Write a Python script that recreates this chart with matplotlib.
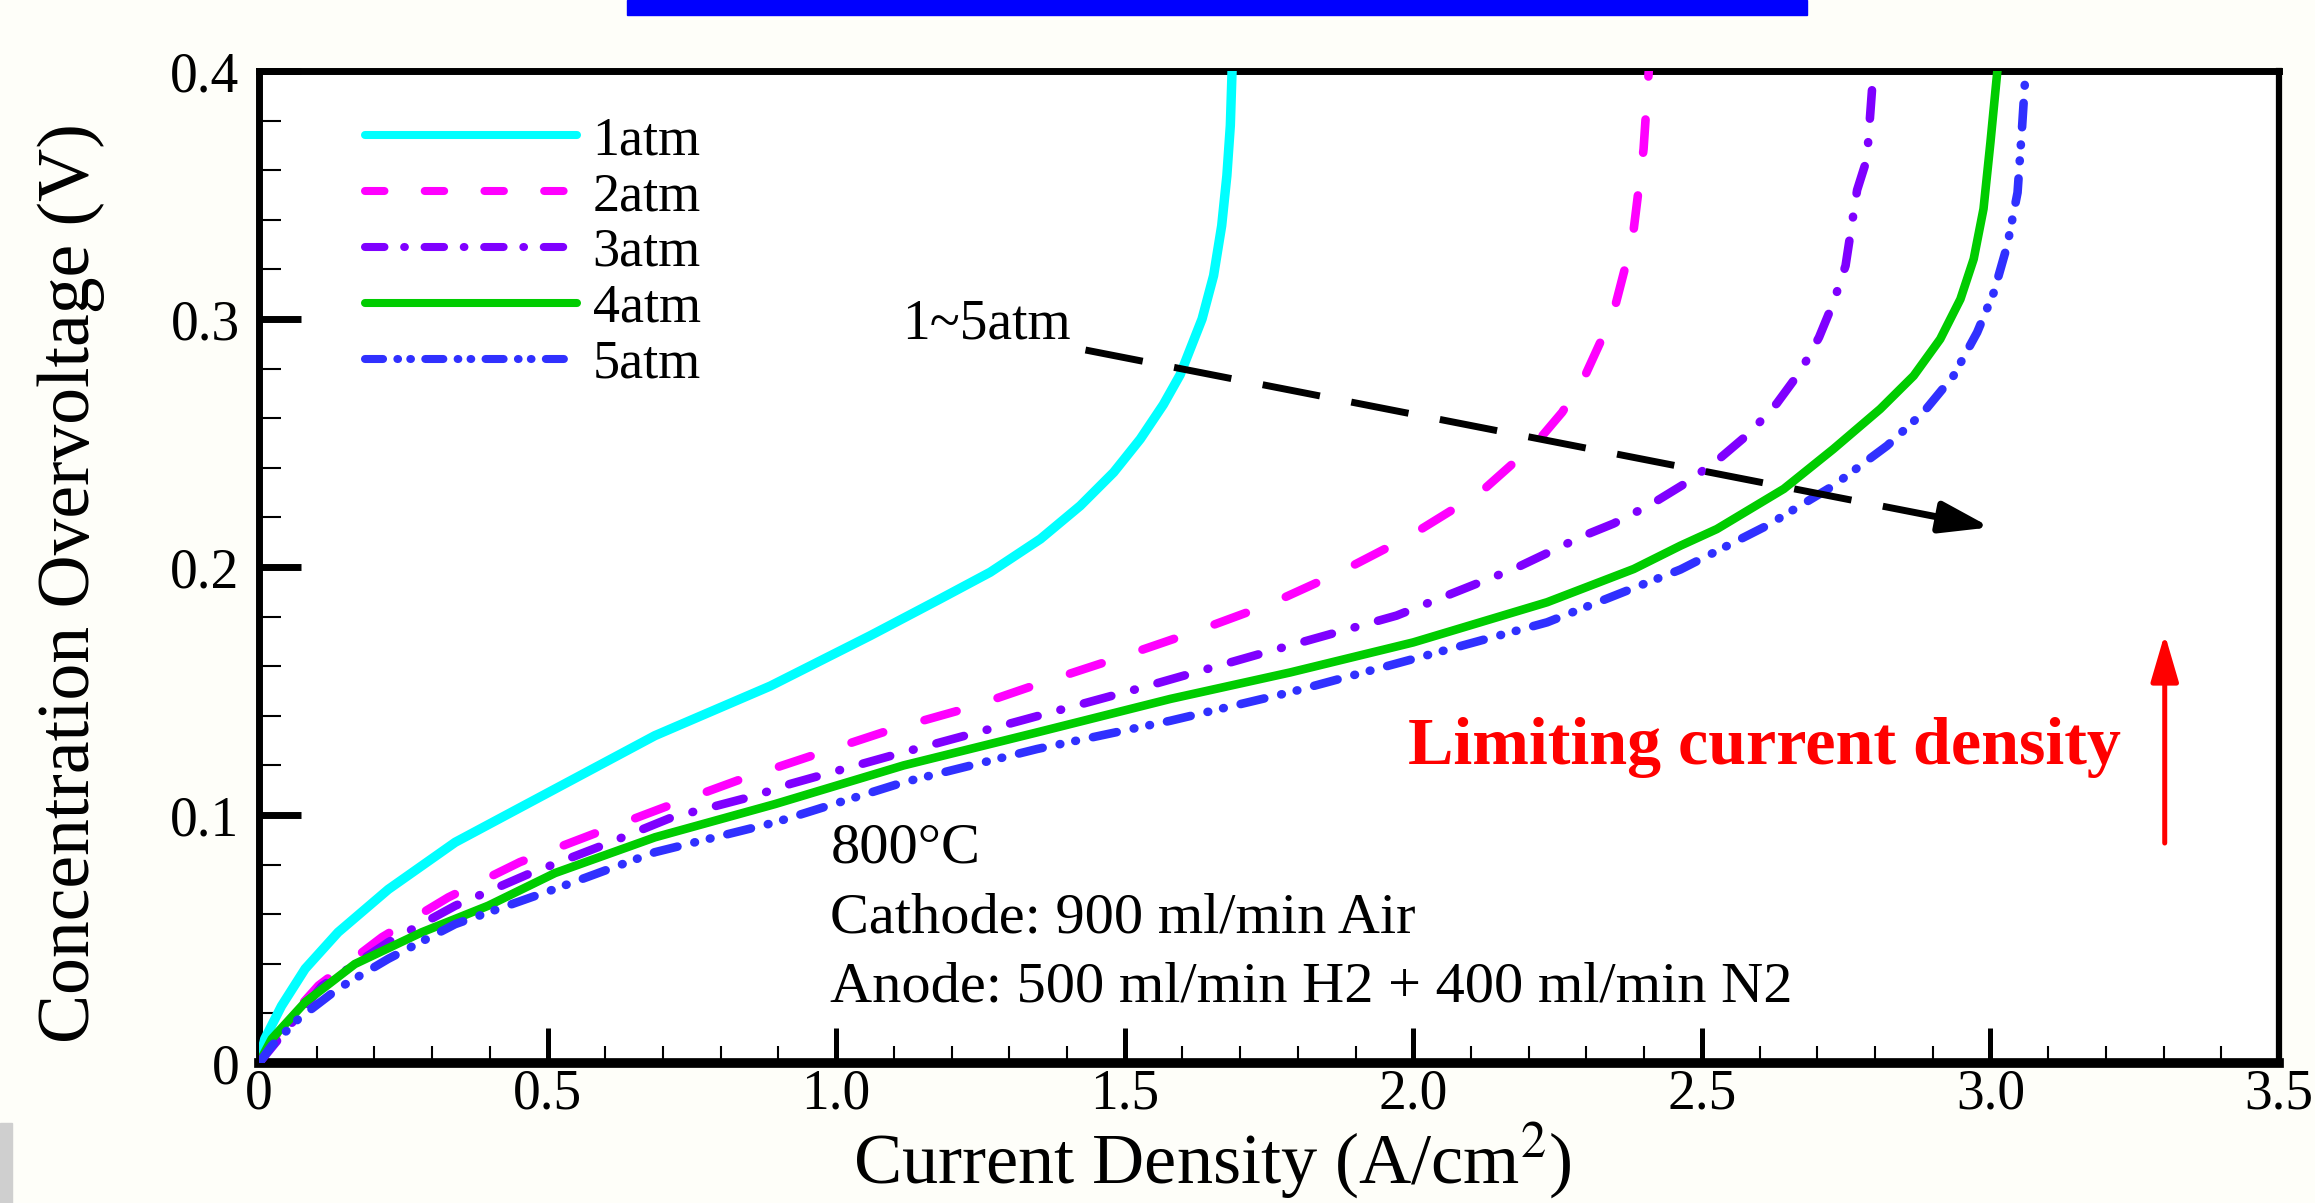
import matplotlib
matplotlib.use("Agg")
import matplotlib.pyplot as plt
from matplotlib.lines import Line2D
from matplotlib.patches import Rectangle

plt.rcParams['font.family'] = ['Liberation Serif', 'DejaVu Serif']
plt.rcParams['mathtext.fontset'] = 'stix'
plt.rcParams['lines.scale_dashes'] = False

# current density (A/cm2) and concentration overvoltage (V)
j_1atm = [0, 0.010, 0.039, 0.080, 0.137, 0.224, 0.340, 0.513, 0.686, 0.886, 1.059, 1.180,
          1.267, 1.354, 1.423, 1.481, 1.527, 1.567, 1.596, 1.634, 1.654, 1.668, 1.677, 1.683, 1.686]
v_1atm = [0, 0.0097, 0.023, 0.038, 0.0527, 0.070, 0.089, 0.1105, 0.132, 0.152, 0.1723, 0.1871,
          0.1979, 0.2113, 0.2247, 0.2382, 0.2516, 0.2655, 0.2775, 0.300, 0.3175, 0.3376, 0.3578, 0.378, 0.400]

j_2atm = [0, 0.039, 0.103, 0.213, 0.328, 0.452, 0.579, 0.709, 0.836, 0.967, 1.099, 1.232,
          1.359, 1.492, 1.619, 1.752, 1.873, 1.995, 2.116, 2.214, 2.258, 2.295, 2.324, 2.350,
          2.366, 2.382, 2.399, 2.408]
v_2atm = [0, 0.0145, 0.0312, 0.0507, 0.0668, 0.081, 0.0923, 0.1037, 0.1145, 0.1246, 0.1347, 0.1434,
          0.1535, 0.1636, 0.1737, 0.1851, 0.1979, 0.2126, 0.230, 0.2503, 0.2624, 0.2758, 0.2906, 0.3054,
          0.3198, 0.3363, 0.3685, 0.400]

j_3atm = [0, 0.109, 0.224, 0.340, 0.467, 0.594, 0.715, 0.860, 0.920, 1.117, 1.319, 1.521, 1.764,
          1.971, 2.177, 2.295, 2.347, 2.413, 2.474, 2.532, 2.584, 2.630, 2.671, 2.703, 2.728, 2.749,
          2.769, 2.786, 2.795]
v_3atm = [0, 0.031, 0.0487, 0.0634, 0.0762, 0.0876, 0.099, 0.1078, 0.1125, 0.1253, 0.138, 0.1508, 0.1669,
          0.1804, 0.1995, 0.2126, 0.2175, 0.2254, 0.2341, 0.2440, 0.2543, 0.2660, 0.279, 0.2926, 0.3067, 0.3215,
          0.352, 0.3645, 0.393]

j_4atm = [0, 0.022, 0.080, 0.166, 0.282, 0.397, 0.513, 0.686, 0.894, 1.117, 1.348, 1.579, 1.787,
          2.000, 2.232, 2.382, 2.463, 2.526, 2.642, 2.728, 2.809, 2.867, 2.913, 2.948, 2.971,
          2.988, 3.000, 3.012]
v_4atm = [0, 0.0097, 0.0245, 0.0399, 0.0527, 0.0634, 0.0766, 0.091, 0.1044, 0.120, 0.1333, 0.1468, 0.1575,
          0.1696, 0.1858, 0.1992, 0.2086, 0.2153, 0.2315, 0.2476, 0.2637, 0.2771, 0.2919, 0.308, 0.3242,
          0.3444, 0.3712, 0.400]

j_5atm = [0, 0.022, 0.068, 0.137, 0.224, 0.340, 0.513, 0.686, 0.894, 1.117, 1.348, 1.579, 1.787,
          2.000, 2.232, 2.463, 2.613, 2.728, 2.821, 2.884, 2.936, 2.977, 3.006, 3.029, 3.047, 3.055, 3.061]
v_5atm = [0, 0.007, 0.0177, 0.030, 0.042, 0.056, 0.0702, 0.085, 0.097, 0.1132, 0.1266, 0.138, 0.1495,
          0.1629, 0.1777, 0.199, 0.2167, 0.2328, 0.2489, 0.2624, 0.2771, 0.2946, 0.3108, 0.3296, 0.351, 0.378, 0.400]

labels = ['1atm', '2atm', '3atm', '4atm', '5atm']
xticks = [0, 0.5, 1.0, 1.5, 2.0, 2.5, 3.0, 3.5]
xticklabels = ['0', '0.5', '1.0', '1.5', '2.0', '2.5', '3.0', '3.5']
yticks = [0, 0.1, 0.2, 0.3, 0.4]
yticklabels = ['0', '0.1', '0.2', '0.3', '0.4']
conditions = ['800°C', 'Cathode: 900 ml/min Air', 'Anode: 500 ml/min H2 + 400 ml/min N2']

curves = [(j_1atm, v_1atm), (j_2atm, v_2atm), (j_3atm, v_3atm), (j_4atm, v_4atm), (j_5atm, v_5atm)]
colors = ['#00ffff', '#ff00ff', '#7f00ff', '#00cc00', '#3030ff']
widths = [6.8, 6.2, 6.2, 6.2, 6.2]
# dash patterns in points (round caps), curve and legend use different scales
curve_dash = [None, (24, 31), (20.5, 17, 0.5, 17), None, (17.5, 12.5, 0.5, 11, 0.5, 12.5)]
legend_dash = [None, (14, 29), (14, 14.2, 0.5, 14.2), None, (13, 10.3, 0.5, 8.8, 0.5, 10.3)]

fig = plt.figure(figsize=(23.15, 12.03), dpi=100, facecolor='#fefef9')
ax = fig.add_axes([259 / 2315, 1 - 1063 / 1203, 2020 / 2315, 992 / 1203])
ax.set_facecolor('white')

for (x, y), c, lw, d in zip(curves, colors, widths, curve_dash):
    line, = ax.plot(x, y, color=c, lw=lw, solid_capstyle='round', dash_capstyle='round',
                    solid_joinstyle='round', zorder=3)
    if d is not None:
        line.set_dashes(d)

ax.set_xlim(0, 3.5)
ax.set_ylim(0, 0.4)
ax.set_xticks(xticks)
ax.set_xticklabels(xticklabels)
ax.set_yticks(yticks)
ax.set_yticklabels(yticklabels)
ax.set_xticks([t / 10 for t in range(36)], minor=True)
ax.set_yticks([t / 50 for t in range(21)], minor=True)
ax.tick_params(axis='x', which='major', direction='in', length=25, width=3.6, labelsize=40, pad=4)
ax.tick_params(axis='x', which='minor', direction='in', length=12, width=1.5)
ax.tick_params(axis='y', which='major', direction='in', length=30, width=5, labelsize=40, pad=14)
ax.tick_params(axis='y', which='minor', direction='in', length=16, width=1.5)
ax.spines['left'].set_linewidth(5)
ax.spines['bottom'].set_linewidth(7)
ax.spines['top'].set_linewidth(5)
ax.spines['right'].set_linewidth(4.5)

ax.set_xlabel('Current Density (A/cm$^{2}$)', fontsize=52)
ax.xaxis.set_label_coords(0.472, -0.058)
ax.set_ylabel('Concentration Overvoltage (V)', fontsize=53, va='center')
ax.yaxis.set_label_coords(-0.093, 0.484)

handles = []
for c, d in zip(colors, legend_dash):
    h = Line2D([], [], color=c, lw=5.8, solid_capstyle='round', dash_capstyle='round')
    if d is not None:
        h.set_dashes(d)
    handles.append(h)
ax.legend(handles, labels, loc='upper left', bbox_to_anchor=(0.0525, 0.955), frameon=False,
          fontsize=39, borderpad=0, borderaxespad=0, handlelength=3.92, handletextpad=0.28,
          labelspacing=0.1)

# pressure trend arrow
arrow_start = (1.432, 0.2875)
arrow_end = (3.0, 0.216)
frac = 0.955
mid = (arrow_start[0] + frac * (arrow_end[0] - arrow_start[0]),
       arrow_start[1] + frac * (arrow_end[1] - arrow_start[1]))
ax.plot([arrow_start[0], mid[0]], [arrow_start[1], mid[1]], color='black', lw=5,
        dashes=(42, 23), zorder=4)
ax.annotate('', xy=arrow_end, xytext=mid,
            arrowprops=dict(arrowstyle='-|>,head_length=30,head_width=9.5', mutation_scale=1,
                            color='black', lw=5, shrinkA=0, shrinkB=0), zorder=4)
ax.text(1.114, 0.2922, '1~5atm', fontsize=40, va='baseline', ha='left')

ax.annotate('', xy=(3.302, 0.173), xytext=(3.302, 0.0887),
            arrowprops=dict(arrowstyle='-|>,head_length=29,head_width=8.5', mutation_scale=1,
                            color='red', lw=3.6, shrinkA=0, shrinkB=0))
ax.text(1.99, 0.1206, 'Limiting current density', fontsize=49, fontweight='bold',
        color='red', va='baseline', ha='left')

for k, s in enumerate(conditions):
    ax.text(0.99, 0.0809 - k * 0.0281, s, fontsize=42, va='baseline', ha='left')

# cropped title bar and side strip from the original slide
fig.patches.append(Rectangle((627 / 2315, 1 - 15 / 1203), 1180 / 2315, 15 / 1203,
                             transform=fig.transFigure, color='#0000ff', zorder=0))
fig.patches.append(Rectangle((0, 0), 12 / 2315, 80 / 1203,
                             transform=fig.transFigure, color='#cfcfcf', zorder=0))

fig.savefig('out.png', dpi=100, facecolor=fig.get_facecolor())
